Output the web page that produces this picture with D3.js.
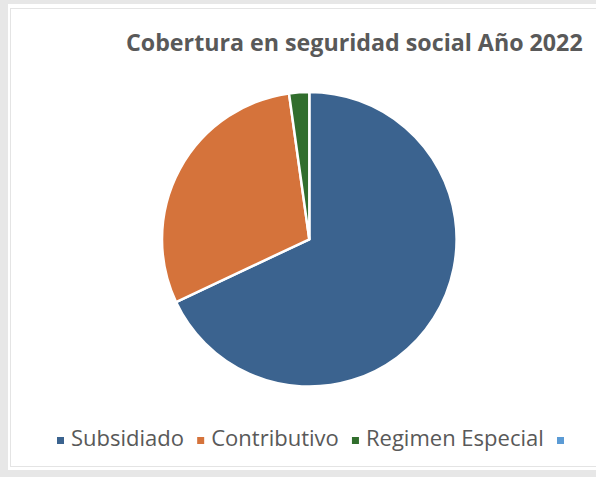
<!DOCTYPE html>
<html><head><meta charset="utf-8">
<script src="https://cdn.jsdelivr.net/npm/d3@7"></script>
<style>html,body{margin:0;padding:0;background:#e7e7e7;}svg{display:block;}</style>
</head><body>
<svg id="chart" width="596" height="477"></svg>
<script>
const title = "Cobertura en seguridad social Año 2022";
const categories = ["Subsidiado", "Contributivo", "Regimen Especial", ""];
const values = [68.0, 29.8, 2.2, 0];
const colors = ["#3b638f", "#d5733b", "#316e2d", "#5b9bd5"];

const W = 596, H = 477;
const svg = d3.select("#chart");
svg.append("rect").attr("x", 0).attr("y", 0).attr("width", W).attr("height", H).attr("fill", "#e7e7e7");
svg.append("rect").attr("x", 8).attr("y", 4).attr("width", W - 8).attr("height", 466).attr("fill", "#ffffff");
svg.append("rect").attr("x", 10.5).attr("y", 8.5).attr("width", W - 8).attr("height", 458)
  .attr("fill", "none").attr("stroke", "#e4e4e4").attr("stroke-width", 1);

// Title fitted to reference width
const t = svg.append("text").text(title)
  .attr("font-family", "'Open Sans', sans-serif").attr("font-weight", 700)
  .attr("font-size", 18).attr("fill", "#595959");
const tw = t.node().getComputedTextLength();
const tfs = 18 * 457 / tw;
t.attr("font-size", tfs).attr("x", 126).attr("y", 51);

// Pie
const cx = 309.3, cy = 239.3, r = 147.3;
const pie = d3.pie().sort(null).value(d => d.v);
const arcs = pie(categories.map((c, i) => ({ c, v: values[i], col: colors[i] })));
const arc = d3.arc().innerRadius(0).outerRadius(r);
const g = svg.append("g").attr("transform", `translate(${cx},${cy})`);
g.selectAll("path").data(arcs.filter(a => a.data.v > 0)).join("path")
  .attr("d", arc).attr("fill", d => d.data.col)
  .attr("stroke", "#ffffff").attr("stroke-width", 2.5).attr("stroke-linejoin", "round");

// Legend
const lg = svg.append("g");
const fs = 17;
const items = lg.selectAll("g").data(categories).join("g");
items.append("rect").attr("width", 7).attr("height", 7).attr("fill", (d, i) => colors[i]);
items.append("text").text(d => d)
  .attr("font-family", "'Open Sans', sans-serif").attr("font-size", fs).attr("fill", "#595959");
// layout: measure
const markerGap = 7, itemGap = 13;
let widths = [];
items.each(function () { widths.push(d3.select(this).select("text").node().getComputedTextLength()); });
// scale font so that legend spans reference width (first marker left 57 -> last text end 544)
const raw = widths.slice(0, 3).reduce((a, b) => a + b, 0);
const target = 544 - 57 - 3 * (7 + markerGap) - 2 * itemGap;
const k = target / raw;
items.select("text").attr("font-size", fs * k);
widths = widths.map(w => w * k);
let x = 57;
items.each(function (d, i) {
  const s = d3.select(this);
  s.select("rect").attr("x", x).attr("y", 437);
  s.select("text").attr("x", x + 7 + markerGap).attr("y", 446);
  x += 7 + markerGap + widths[i] + itemGap;
});
</script>
</body></html>
